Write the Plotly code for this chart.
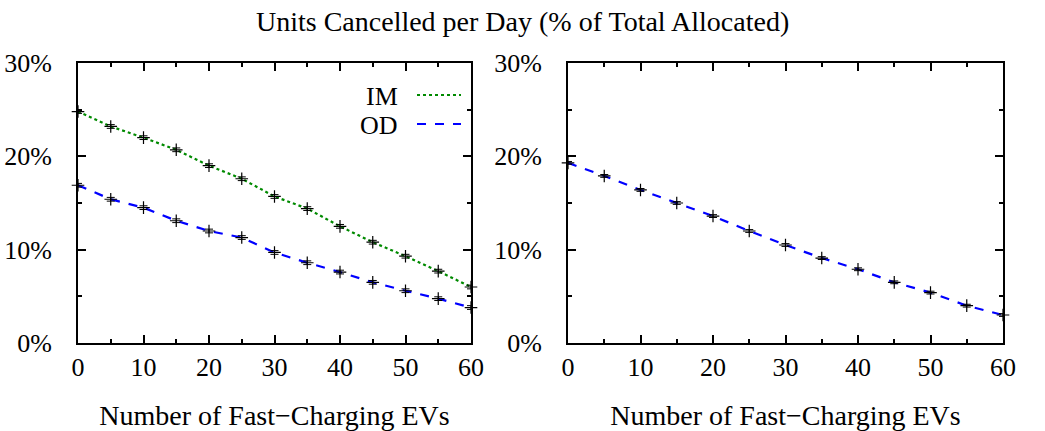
import plotly.graph_objects as go

ev_counts = [0, 5, 10, 15, 20, 25, 30, 35, 40, 45, 50, 55, 60]
im_left = [24.8, 23.2, 22.0, 20.7, 19.0, 17.6, 15.7, 14.4, 12.5, 10.8, 9.3, 7.7, 6.0]
od_left = [16.9, 15.4, 14.5, 13.1, 12.0, 11.3, 9.7, 8.6, 7.6, 6.5, 5.6, 4.75, 3.8]
od_right = [19.3, 17.9, 16.4, 15.0, 13.6, 12.0, 10.5, 9.1, 7.9, 6.5, 5.4, 4.0, 3.0]
im_left_err = [0.2, 0.2, 0.2, 0.2, 0.2, 0.2, 0.2, 0.2, 0.2, 0.2, 0.2, 0.2, 0.2]
od_left_err = [0.2, 0.2, 0.2, 0.2, 0.2, 0.2, 0.2, 0.2, 0.2, 0.2, 0.2, 0.2, 0.2]
od_right_err = [0.15, 0.15, 0.15, 0.15, 0.15, 0.15, 0.15, 0.15, 0.15, 0.15, 0.15, 0.15, 0.15]
y_ticks = [0, 10, 20, 30]
y_tick_text = ["0%", "10%", "20%", "30%"]
x_ticks = [0, 10, 20, 30, 40, 50, 60]

title_text = "Units Cancelled per Day (% of Total Allocated)"
x_title = "Number of Fast\u2212Charging EVs"
legend_names = ["IM", "OD"]

FONT = "Liberation Serif, Times New Roman, serif"
GREEN = "#008a00"
BLUE = "#0000ff"

W, H = 1045, 431
def px_x(v):
    return v / W
def px_y(v):
    return 1 - v / H

fig = go.Figure()

def add_series(x, y, err, color, dash, width, xa, ya, name):
    fig.add_trace(go.Scatter(
        x=x, y=y, mode="lines", name=name,
        line=dict(color=color, dash=dash, width=width),
        xaxis=xa, yaxis=ya, showlegend=False, hoverinfo="skip"))
    fig.add_trace(go.Scatter(
        x=x, y=y, mode="markers", name=name,
        marker=dict(symbol="cross-thin", size=9, line=dict(color="black", width=1.2), color="black"),
        error_y=dict(type="data", array=err, visible=True, color="black", thickness=1, width=4),
        xaxis=xa, yaxis=ya, showlegend=False, hoverinfo="skip", cliponaxis=False))

add_series(ev_counts, im_left, im_left_err, GREEN, "dot", 2.2, "x", "y", legend_names[0])
add_series(ev_counts, od_left, od_left_err, BLUE, "dash", 2.2, "x", "y", legend_names[1])
add_series(ev_counts, od_right, od_right_err, BLUE, "dash", 2.2, "x2", "y2", legend_names[1])

ydom = [px_y(343), px_y(63)]
axis_common = dict(
    showgrid=False, zeroline=False, showline=True, linecolor="black", linewidth=2,
    mirror="ticks", ticks="inside", ticklen=8, tickwidth=1.5, tickcolor="black",
    tickfont=dict(family=FONT, size=26, color="black"), automargin=False,
)

xaxis_common = dict(axis_common, range=[0, 60], tickvals=x_ticks,
                    minor=dict(dtick=5, ticks="inside", ticklen=4, tickwidth=1.5, tickcolor="black"),
                    ticklabelstandoff=0,
                    title=dict(text=x_title, font=dict(family=FONT, size=28, color="black"), standoff=30))
yaxis_common = dict(axis_common, range=[0, 30], tickvals=y_ticks, ticktext=y_tick_text,
                    minor=dict(dtick=5, ticks="inside", ticklen=4, tickwidth=1.5, tickcolor="black"),
                    ticklabelstandoff=19)

fig.update_layout(
    width=W, height=H,
    margin=dict(l=0, r=0, t=0, b=0),
    paper_bgcolor="white", plot_bgcolor="white",
    showlegend=False,
    xaxis=dict(xaxis_common, domain=[px_x(78), px_x(471)], anchor="y"),
    yaxis=dict(yaxis_common, domain=ydom, anchor="x"),
    xaxis2=dict(xaxis_common, domain=[px_x(568), px_x(1003)], anchor="y2"),
    yaxis2=dict(yaxis_common, domain=ydom, anchor="x2"),
    annotations=[
        dict(text=title_text, x=0.5, y=px_y(22), xref="paper", yref="paper",
             xanchor="center", yanchor="middle", showarrow=False,
             font=dict(family=FONT, size=28, color="black")),
        dict(text=legend_names[0], x=px_x(400), y=px_y(96), xref="paper", yref="paper",
             xanchor="right", yanchor="middle", showarrow=False,
             font=dict(family=FONT, size=26, color="black")),
        dict(text=legend_names[1], x=px_x(400), y=px_y(125), xref="paper", yref="paper",
             xanchor="right", yanchor="middle", showarrow=False,
             font=dict(family=FONT, size=26, color="black")),
    ],
    shapes=[
        dict(type="line", xref="paper", yref="paper", x0=px_x(417), x1=px_x(461),
             y0=px_y(95), y1=px_y(95), line=dict(color=GREEN, dash="dot", width=2.2)),
        dict(type="line", xref="paper", yref="paper", x0=px_x(417), x1=px_x(461),
             y0=px_y(124), y1=px_y(124), line=dict(color=BLUE, dash="dash", width=2.2)),
    ],
)

fig.write_html("out.html")
